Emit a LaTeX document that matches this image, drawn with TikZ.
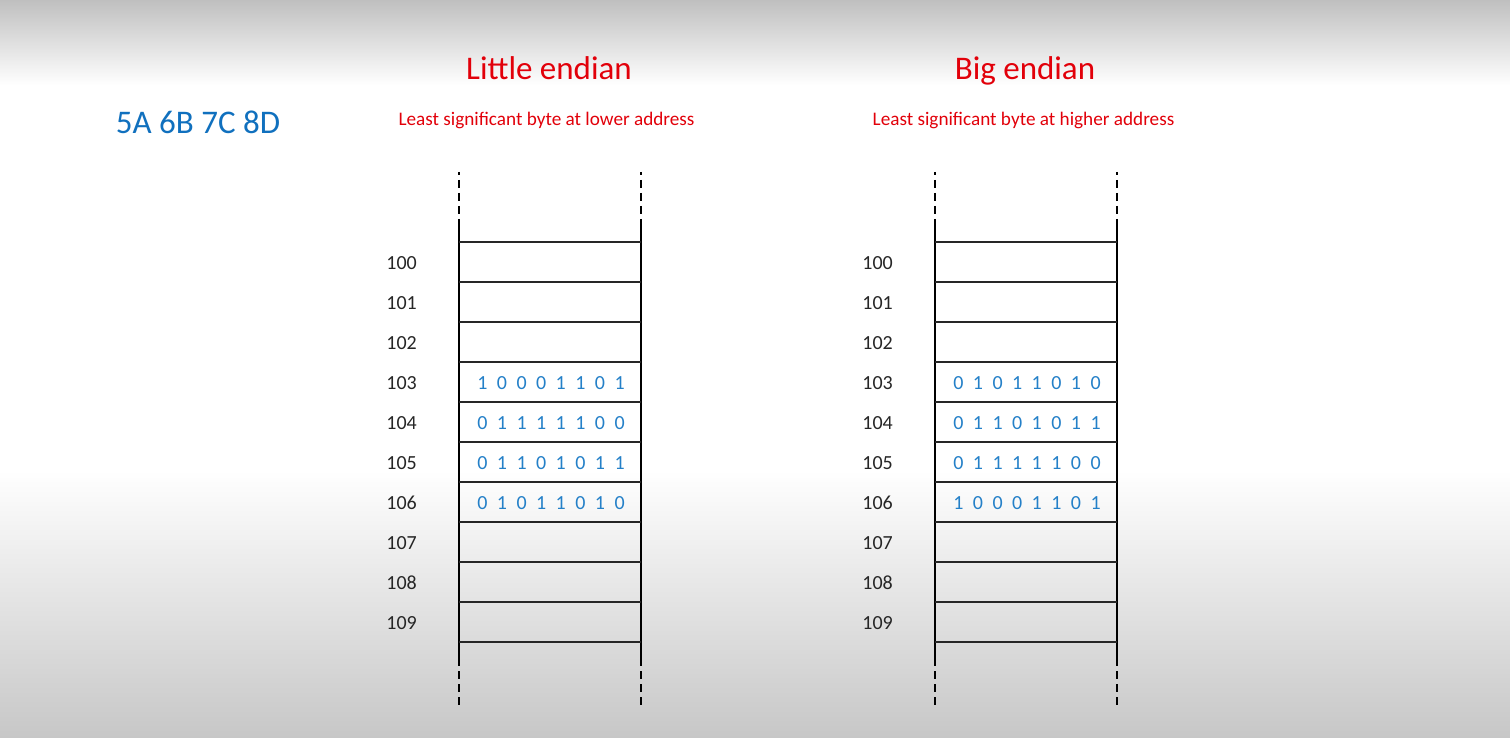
\documentclass[tikz,border=0pt]{standalone}
\usepackage{fontspec}
\setmainfont{Carlito}
\definecolor{titlered}{RGB}{226,0,10}
\definecolor{hexblue}{RGB}{16,112,190}
\definecolor{bitblue}{RGB}{36,128,200}
\newcommand\bits[1]{\bitsaux#1\relax}
\def\bitsaux#1{\ifx#1\relax\else\makebox[19.6pt]{#1}\expandafter\bitsaux\fi}
\tikzset{
  title/.style={text=titlered,font=\fontsize{33}{40}\selectfont,inner sep=0pt,anchor=base},
  subtitle/.style={text=titlered,font=\fontsize{19.2}{23}\selectfont,inner sep=0pt},
  addr/.style={text=black!85,font=\fontsize{20}{24}\selectfont,inner sep=0pt,anchor=east},
  bitrow/.style={text=bitblue,font=\fontsize{20}{24}\selectfont,inner sep=0pt},
  wall/.style={line width=1.7pt,black},
  dwall/.style={line width=1.7pt,black,dash pattern=on 8pt off 5pt},
  rowline/.style={line width=1.5pt,black!85},
}
\begin{document}
\begin{tikzpicture}[x=1pt,y=-1pt]
\useasboundingbox (0,0) rectangle (1510,738);
\fill[white] (0,0) rectangle (1510,738);
\shade[top color=black!25,bottom color=white] (0,0) rectangle (1510,85);
\shade[top color=white,bottom color=black!22] (0,470) rectangle (1510,738);

\node[text=hexblue,font=\fontsize{33}{40}\selectfont,inner sep=0pt] (hex) at (198,122) {5A 6B 7C 8D};

\node[title] (tl) at (549,79.5) {Little endian};
\node[subtitle] (sl) at (546.5,120) {Least significant byte at lower address};
\node[title] (tb) at (1025,79.5) {Big endian};
\node[subtitle] (sb) at (1023.5,120) {Least significant byte at higher address};

\foreach \x/\t in {459/L,935/B}{
  \foreach \dx in {0,182}{
    \draw[dwall,dash phase=5pt] (\x+\dx,172) -- (\x+\dx,214);
    \draw[wall] (\x+\dx,219) -- (\x+\dx,666);
    \draw[dwall] (\x+\dx,671) -- (\x+\dx,706);
  }
  \foreach \k in {0,...,10}{
    \draw[rowline] (\x,242+40*\k) -- (\x+182,242+40*\k);
  }
  \foreach \k in {0,...,9}{
    \node[addr] (\t a\k) at (\x-42,263+40*\k) {10\k};
  }
}

\node[bitrow] (L3) at (551,383) {\bits{10001101}};
\node[bitrow] (L4) at (551,423) {\bits{01111100}};
\node[bitrow] (L5) at (551,463) {\bits{01101011}};
\node[bitrow] (L6) at (551,503) {\bits{01011010}};

\node[bitrow] (B3) at (1027,383) {\bits{01011010}};
\node[bitrow] (B4) at (1027,423) {\bits{01101011}};
\node[bitrow] (B5) at (1027,463) {\bits{01111100}};
\node[bitrow] (B6) at (1027,503) {\bits{10001101}};
\end{tikzpicture}
\end{document}
